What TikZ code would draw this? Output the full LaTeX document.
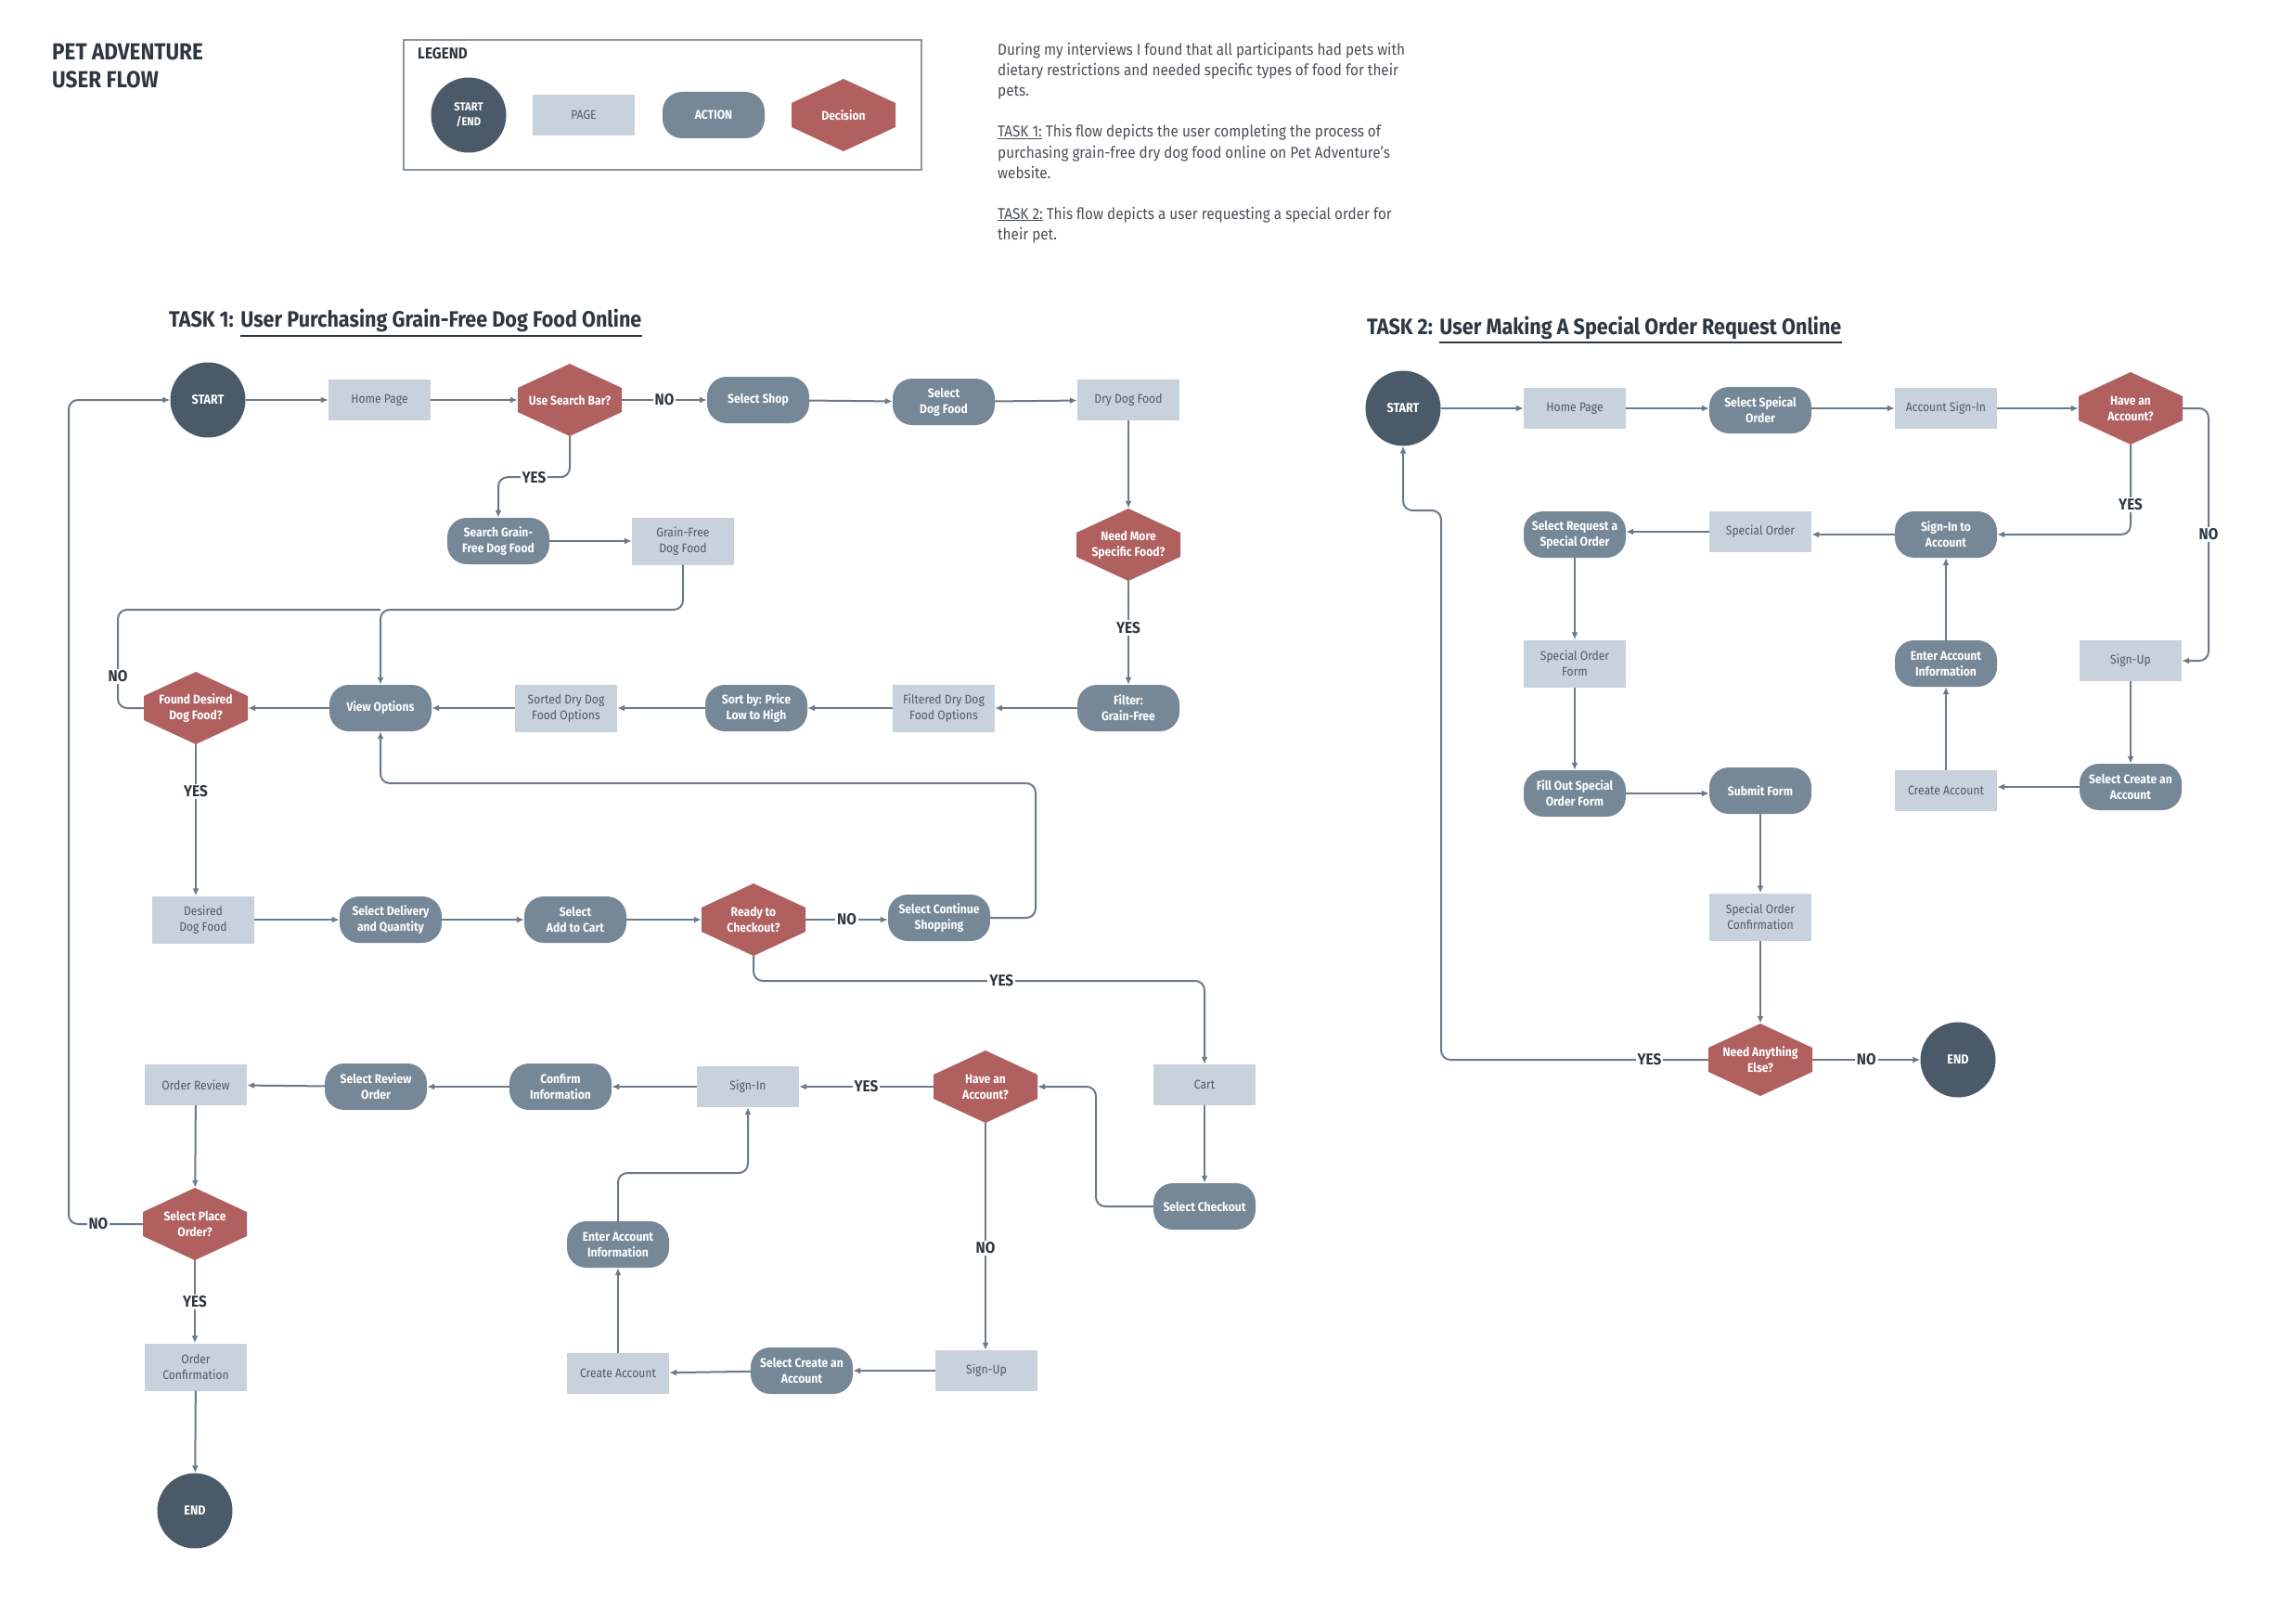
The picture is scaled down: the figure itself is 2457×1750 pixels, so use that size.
\documentclass[tikz,border=0pt]{standalone}
\usepackage{fontspec}
\setmainfont{Fira Sans}[FakeStretch=0.9]
\usetikzlibrary{arrows.meta}
\definecolor{startc}{HTML}{4A5A69}
\definecolor{pagec}{HTML}{C7D2DD}
\definecolor{actc}{HTML}{768797}
\definecolor{decc}{HTML}{B0605F}
\definecolor{linec}{HTML}{6D7A86}
\definecolor{pagetext}{HTML}{4F5A64}
\definecolor{labtext}{HTML}{2E3740}
\definecolor{desctext}{HTML}{4A4F55}
\definecolor{legline}{HTML}{8A939B}
\tikzset{
  nodetext/.style={font=\fontsize{13.5}{17}\selectfont, align=center, inner sep=2pt},
  startend/.style={nodetext, circle, minimum size=81pt, fill=startc, text=white, font=\fontsize{14}{17}\selectfont\bfseries},
  pagebox/.style={nodetext, rectangle, minimum width=110pt, minimum height=44pt, fill=pagec, text=pagetext},
  pagebox2/.style={pagebox, minimum height=51pt},
  actbox/.style={nodetext, rectangle, rounded corners=21pt, minimum width=110pt, minimum height=50pt, fill=actc, text=white, font=\fontsize{13.5}{17}\selectfont\bfseries},
  decbox/.style={nodetext, rectangle, minimum width=112pt, minimum height=78pt, inner sep=0pt, fill=white, text=white, font=\fontsize{13.5}{17}\selectfont\bfseries,
    path picture={\fill[decc] (path picture bounding box.north) -- ([yshift=-26pt]path picture bounding box.north east) -- ([yshift=26pt]path picture bounding box.south east) -- (path picture bounding box.south) -- ([yshift=26pt]path picture bounding box.south west) -- ([yshift=-26pt]path picture bounding box.north west) -- cycle;}},
  conn/.style={draw=linec, line width=2pt, rounded corners=10pt},
  arr/.style={conn, -{Latex[length=8pt,width=7pt]}},
  lab/.style={fill=white, text=labtext, font=\fontsize{17}{19}\selectfont\bfseries, inner sep=2pt, rounded corners=0pt},
  ttl/.style={text=labtext, font=\fontsize{24}{27}\selectfont\bfseries, inner sep=0pt},
  desc/.style={text=desctext, font=\fontsize{17}{22}\selectfont, align=left, inner sep=0pt, anchor=base west},
}
\begin{document}
\begin{tikzpicture}[x=1pt,y=-1pt]
\path[use as bounding box, fill=white] (0,0) rectangle (2457,1750);

% ---------- header (anchor = baseline of last line) ----------
\node[ttl, anchor=base west, align=left, font=\fontsize{25}{30}\selectfont\bfseries] (hdr) at (56,95) {PET ADVENTURE\\USER FLOW};

% ---------- legend ----------
\draw[legline, line width=1.5pt] (435,43) rectangle (993,183);
\node[anchor=base west, text=labtext, font=\fontsize{17}{19}\selectfont\bfseries, inner sep=0pt] (legt) at (450,64) {LEGEND};
\node[startend, font=\fontsize{12.5}{16}\selectfont\bfseries] (lg1) at (505,124) {START\\/END};
\node[pagebox] (lg2) at (629,124) {PAGE};
\node[actbox] (lg3) at (769,124) {ACTION};
\node[decbox] (lg4) at (909,124) {Decision};

% ---------- description (anchor = baseline of last line) ----------
\node[desc] (p1) at (1075,104) {During my interviews I found that all participants had pets with\\dietary restrictions and needed specific types of food for their\\pets.};
\node[desc] (p2) at (1075,192) {\underline{TASK 1:} This flow depicts the user completing the process of\\purchasing grain-free dry dog food online on Pet Adventure’s\\website.};
\node[desc] (p3) at (1075,258) {\underline{TASK 2:} This flow depicts a user requesting a special order for\\their pet.};

% ---------- titles ----------
\node[ttl, anchor=base west] (t1a) at (182,352) {TASK 1:};
\node[ttl, anchor=base west] (t1b) at ([xshift=7pt]t1a.base east) {User Purchasing Grain-Free Dog Food Online};
\draw[labtext, line width=2.5pt] ([yshift=-10pt]t1b.base west) -- ([yshift=-10pt]t1b.base east);
\node[ttl, anchor=base west] (t2a) at (1473,360) {TASK 2:};
\node[ttl, anchor=base west] (t2b) at ([xshift=7pt]t2a.base east) {User Making A Special Order Request Online};
\draw[labtext, line width=2.5pt] ([yshift=-9pt]t2b.base west) -- ([yshift=-9pt]t2b.base east);

% ---------- task 1 nodes ----------
\node[startend] (s1) at (224,431) {START};
\node[pagebox] (hp1) at (409,431) {Home Page};
\node[decbox] (d1) at (614,431) {Use Search Bar?};
\node[actbox] (shop) at (817,431) {Select Shop};
\node[actbox] (sdf) at (1017,433) {Select\\Dog Food};
\node[pagebox] (ddf) at (1216,431) {Dry Dog Food};
\node[decbox] (need) at (1216,587) {Need More\\Specific Food?};
\node[actbox] (filt) at (1216,763) {Filter:\\Grain-Free};
\node[pagebox2] (fdd) at (1017,763) {Filtered Dry Dog\\Food Options};
\node[actbox] (sort) at (815,763) {Sort by: Price\\Low to High};
\node[pagebox2] (sdd) at (610,763) {Sorted Dry Dog\\Food Options};
\node[actbox] (view) at (410,763) {View Options};
\node[decbox] (found) at (211,763) {Found Desired\\Dog Food?};
\node[actbox] (sgf) at (537,583) {Search Grain-\\Free Dog Food};
\node[pagebox2] (gf) at (736,583) {Grain-Free\\Dog Food};
\node[pagebox2] (des) at (219,991) {Desired\\Dog Food};
\node[actbox] (sdq) at (421,991) {Select Delivery\\and Quantity};
\node[actbox] (sac) at (620,991) {Select\\Add to Cart};
\node[decbox] (ready) at (812,991) {Ready to\\Checkout?};
\node[actbox] (scs) at (1012,989) {Select Continue\\Shopping};
\node[pagebox] (cart) at (1298,1169) {Cart};
\node[actbox] (chk) at (1298,1300) {Select Checkout};
\node[decbox] (acc1) at (1062,1171) {Have an\\Account?};
\node[pagebox] (si) at (806,1171) {Sign-In};
\node[actbox] (conf) at (604,1171) {Confirm\\Information};
\node[actbox] (sro) at (405,1171) {Select Review\\Order};
\node[pagebox] (orev) at (211,1169) {Order Review};
\node[decbox] (spo) at (210,1319) {Select Place\\Order?};
\node[pagebox2] (oc) at (211,1473) {Order\\Confirmation};
\node[startend] (e1) at (210,1628) {END};
\node[pagebox] (su1) at (1063,1477) {Sign-Up};
\node[actbox] (sca1) at (864,1477) {Select Create an\\Account};
\node[pagebox] (ca1) at (666,1480) {Create Account};
\node[actbox] (eai1) at (666,1341) {Enter Account\\Information};

% ---------- task 1 connectors ----------
\draw[arr] (s1) -- (hp1);
\draw[arr] (hp1) -- (d1);
\draw[arr] (d1.east) -- node[lab]{NO} (shop.west);
\draw[arr] (shop) -- (sdf);
\draw[arr] (sdf) -- (ddf);
\draw[arr] (ddf) -- (need);
\draw[arr] (need.south) -- node[lab, pos=0.45]{YES} (filt.north);
\draw[arr] (filt) -- (fdd);
\draw[arr] (fdd) -- (sort);
\draw[arr] (sort) -- (sdd);
\draw[arr] (sdd) -- (view);
\draw[arr] (view) -- (found);
\draw[arr] (d1.south) -- ++(0,44) -| node[lab, pos=0.25]{YES} (sgf.north);
\draw[arr] (sgf) -- (gf);
\coordinate (jn) at (410,657);
\coordinate (jl) at (127,657);
\draw[arr] (gf.south) |- (jn) -- (view.north);
\draw[conn] (found.west) -| node[lab, pos=0.66]{NO} (jl) -- (jn);
\draw[arr] (found.south) -- node[lab, pos=0.31]{YES} (found.south |- des.north);
\draw[arr] (des) -- (sdq);
\draw[arr] (sdq) -- (sac);
\draw[arr] (sac) -- (ready);
\draw[arr] (ready.east) -- node[lab]{NO} (ready.east -| scs.west);
\coordinate (lp) at (1116,844);
\draw[arr] (scs.east) -| (lp) -| (view.south);
\coordinate (cy) at (1298,1057);
\draw[arr] (ready.south) |- node[lab, pos=0.775]{YES} (cy) -- (cart.north);
\draw[arr] (cart) -- (chk);
\coordinate (ck) at (1181,1171);
\draw[arr] (chk.west) -| (ck) -- (acc1.east);
\draw[arr] (acc1.west) -- node[lab]{YES} (si.east);
\draw[arr] (si) -- (conf);
\draw[arr] (conf) -- (sro);
\draw[arr] (sro) -- (orev);
\draw[arr] (acc1.south) -- node[lab, pos=0.55]{NO} (acc1.south |- su1.north);
\draw[arr] (su1) -- (sca1);
\draw[arr] (sca1) -- (ca1);
\draw[arr] (ca1) -- (eai1);
\coordinate (ei) at (806,1264);
\draw[arr] (eai1.north) |- (ei) -- (si.south);
\draw[arr] (orev) -- (spo);
\coordinate (c1) at (74,1319);
\coordinate (c2) at (74,431);
\draw[arr] (spo.west) -- node[lab, pos=0.6]{NO} (c1) -- (c2) -- (s1.west);
\draw[arr] (spo.south) -- node[lab, pos=0.5]{YES} (spo.south |- oc.north);
\draw[arr] (oc) -- (e1);

% ---------- task 2 nodes ----------
\node[startend] (s2) at (1512,440) {START};
\node[pagebox] (hp2) at (1697,440) {Home Page};
\node[actbox] (sso) at (1897,442) {Select Speical\\Order};
\node[pagebox] (asi) at (2097,440) {Account Sign-In};
\node[decbox] (acc2) at (2296,440) {Have an\\Account?};
\node[actbox] (sia) at (2097,576) {Sign-In to\\Account};
\node[pagebox] (so) at (1897,573) {Special Order};
\node[actbox] (srs) at (1697,576) {Select Request a\\Special Order};
\node[pagebox2] (sof) at (1697,715) {Special Order\\Form};
\node[actbox] (fo) at (1697,855) {Fill Out Special\\Order Form};
\node[actbox] (sf) at (1897,852) {Submit Form};
\node[pagebox2] (soc) at (1897,988) {Special Order\\Confirmation};
\node[decbox] (nae) at (1897,1142) {Need Anything\\Else?};
\node[startend] (e2) at (2110,1142) {END};
\node[pagebox] (su2) at (2296,712) {Sign-Up};
\node[actbox] (sca2) at (2296,848) {Select Create an\\Account};
\node[pagebox] (ca2) at (2097,852) {Create Account};
\node[actbox] (eai2) at (2097,715) {Enter Account\\Information};

% ---------- task 2 connectors ----------
\draw[arr] (s2) -- (hp2);
\draw[arr] (hp2) -- (sso.west |- hp2);
\draw[arr] (sso.east |- asi) -- (asi);
\draw[arr] (asi) -- (acc2);
\coordinate (n2) at (2380,712);
\draw[arr] (acc2.east) -| node[lab, pos=0.75]{NO} (n2) -- (su2.east);
\draw[arr] (acc2.south) |- node[lab, pos=0.335]{YES} (sia.east);
\draw[arr] (sia.west) -- (sia.west -| so.east);
\draw[arr] (so.west) -- (so.west -| srs.east);
\draw[arr] (srs) -- (sof);
\draw[arr] (sof) -- (fo);
\draw[arr] (fo.east) -- (fo.east -| sf.west);
\draw[arr] (sf) -- (soc);
\draw[arr] (soc) -- (nae);
\draw[arr] (nae.east) -- node[lab]{NO} (e2.west);
\coordinate (y1) at (1553,1142);
\coordinate (y2) at (1553,550);
\draw[arr] (nae.west) -- node[lab, pos=0.22]{YES} (y1) -- (y2) -| (s2.south);
\draw[arr] (su2) -- (sca2);
\draw[arr] (sca2.west) -- (sca2.west -| ca2.east);
\draw[arr] (ca2) -- (eai2);
\draw[arr] (eai2) -- (sia);
\end{tikzpicture}
\end{document}
